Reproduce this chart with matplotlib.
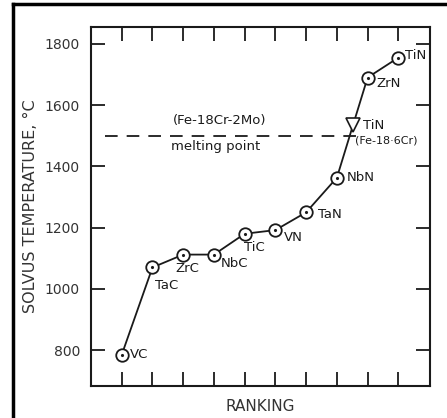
import matplotlib.pyplot as plt
from matplotlib.lines import Line2D

# Classement des carbures / nitrures
rangs = [1, 2, 3, 4, 5, 6, 7, 8, 9, 10]
temperatures = [785, 1070, 1112, 1112, 1180, 1192, 1250, 1363, 1690, 1755]
noms = ["VC", "TaC", "ZrC", "NbC", "TiC", "VN", "TaN", "NbN", "ZrN", "TiN"]
# decalage des etiquettes (pixels)
decalages = [(8, 0), (3, -18), (4, -14), (7, -9), (10, -14), (8, -7),
             (12, -2), (10, 0), (9, -6), (7, 2)]
alignements = ["left", "left", "center", "left", "center", "left",
               "left", "left", "left", "left"]

triangle_x = 8.52
triangle_y = 1535
fusion = 1500
fusion_x = [0.45, 8.65]

fig = plt.figure(figsize=(4.47, 4.18), dpi=100)
ax = fig.add_axes([91 / 447, 1 - 386 / 418, 339 / 447, 359 / 418])

couleur = "#1a1a1a"
ax.plot(rangs, temperatures, "-", color=couleur, lw=1.3, zorder=2)
ax.plot(rangs, temperatures, "o", ms=9, mfc="white", mec=couleur, mew=1.3, zorder=3)
ax.plot(rangs, temperatures, ".", ms=2.5, color=couleur, zorder=4)
ax.plot([triangle_x], [triangle_y], "v", ms=10, mfc="white", mec=couleur, mew=1.2, zorder=3)

ax.plot(fusion_x, [fusion, fusion], "--", color=couleur, lw=1.3,
        dashes=(7, 5), zorder=1)
ax.text(4.2, 1550, "(Fe-18Cr-2Mo)", ha="center", va="center", fontsize=9.5, color=couleur)
ax.text(4.05, 1465, "melting point", ha="center", va="center", fontsize=9.5, color=couleur)
ax.annotate("TiN", (triangle_x, triangle_y), xytext=(10, 0), textcoords="offset pixels",
            ha="left", va="center", fontsize=9.5, color=couleur)
ax.annotate("(Fe-18·6Cr)", (triangle_x, triangle_y), xytext=(2, -15),
            textcoords="offset pixels", ha="left", va="center", fontsize=8, color=couleur)

for x, y, nom, d, al in zip(rangs, temperatures, noms, decalages, alignements):
    ax.annotate(nom, (x, y), xytext=d, textcoords="offset pixels",
                ha=al, va="center", fontsize=9.5, color=couleur)

ax.set_xlim(0, 11.03)
ax.set_ylim(683, 1855)
ax.set_xticks(rangs)
ax.set_xticklabels([])
ax.set_yticks([800, 1000, 1200, 1400, 1600, 1800])
ax.tick_params(axis="x", direction="in", top=True, length=10, width=1.3, color=couleur)
ax.tick_params(axis="y", direction="in", right=True, length=10, width=1.3,
               labelsize=10, labelcolor="#333333", color=couleur, pad=8)
for cote in ax.spines.values():
    cote.set_linewidth(1.5)
    cote.set_color(couleur)

ax.set_ylabel("SOLVUS TEMPERATURE, °C", fontsize=11.5, color="#333333", labelpad=5)
ax.set_xlabel("RANKING", fontsize=11, color="#333333", labelpad=6)

# cadre noir en haut et a gauche
fig.add_artist(Line2D([13 / 447, 1], [1 - 3.5 / 418, 1 - 3.5 / 418], color="black", lw=2.5))
fig.add_artist(Line2D([13 / 447, 13 / 447], [0, 1 - 3.5 / 418], color="black", lw=2.5))

fig.savefig("out.png", dpi=100)
